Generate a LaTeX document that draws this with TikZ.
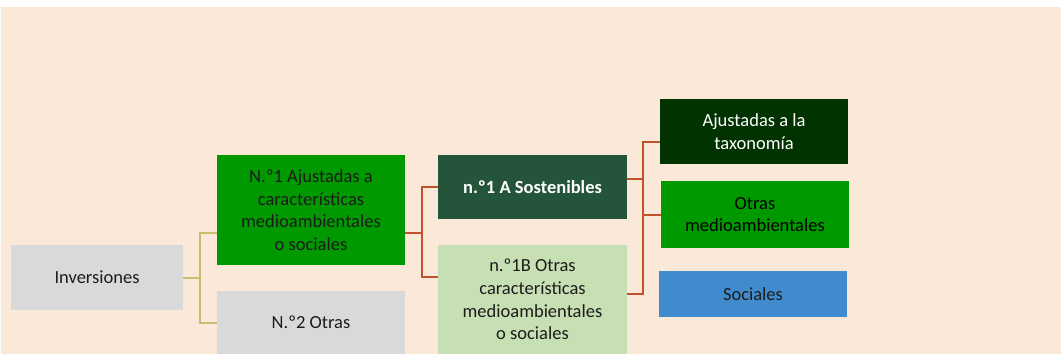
\documentclass[tikz,border=0pt]{standalone}
\usepackage{fontspec}
\setmainfont{Carlito}
\usetikzlibrary{calc}
\definecolor{bgc}{HTML}{FAE8D8}
\definecolor{grayc}{HTML}{D9D9D9}
\definecolor{greenc}{HTML}{009900}
\definecolor{dkgreen}{HTML}{24553A}
\definecolor{darkest}{HTML}{003300}
\definecolor{ltgreen}{HTML}{C6E0B4}
\definecolor{bluec}{HTML}{3F8BCE}
\definecolor{redl}{HTML}{C4502E}
\definecolor{yell}{HTML}{C9BE70}
\definecolor{txt}{HTML}{1C1C1C}
\begin{document}
\begin{tikzpicture}[x=1pt,y=1pt,
  box/.style={rectangle, inner sep=0pt, align=center, text=txt,
    font=\fontsize{18.5}{22.6}\selectfont},
  yline/.style={draw=yell, line width=2pt},
  rline/.style={draw=redl, line width=2pt}]
\useasboundingbox (0,0) rectangle (1061,-354);
\fill[bgc] (1,-7) rectangle (1061,-354);
\node[box, fill=grayc, minimum width=172, minimum height=65] (inv) at (97,-277.5) {Inversiones};
\node[box, fill=greenc, minimum width=188, minimum height=110] (n1) at (311,-210) {N.º1 Ajustadas a\\características\\medioambientales\\o sociales};
\node[box, fill=grayc, minimum width=188, minimum height=63] (n2) at (311,-322.5) {N.º2 Otras};
\node[box, fill=dkgreen, text=white, font=\fontsize{18.5}{22.6}\selectfont\bfseries, minimum width=189, minimum height=64] (a) at (532.5,-187) {n.º1 A Sostenibles};
\node[box, fill=ltgreen, minimum width=189, minimum height=109] (b) at (532.5,-299.5) {n.º1B Otras\\características\\medioambientales\\o sociales};
\node[box, fill=darkest, text=white, minimum width=188, minimum height=65] (aj) at (754,-131.5) {Ajustadas a la\\taxonomía};
\node[box, fill=greenc, text=black, minimum width=188, minimum height=67] (ot) at (755,-214.5) {Otras\\medioambientales};
\node[box, fill=bluec, minimum width=188, minimum height=46] (so) at (753,-294) {Sociales};
% yellow connector
\draw[yline] (inv.east) -- ++(17,0) coordinate (j1);
\draw[yline] ($(n1.west)+(0,-23)$) -| (j1) |- (n2.west);
% red connector 1
\coordinate (j2) at ($(n1.east)+(17,-23)$);
\draw[rline] ($(n1.east)+(0,-23)$) -- (j2);
\draw[rline] (a.west) -| (j2) |- ($(b.west)+(0,22.5)$);
% red connector 2
\coordinate (j3) at ($(a.east)+(16,8)$);
\draw[rline] ($(a.east)+(0,8)$) -- (j3);
\draw[rline] ($(aj.west)+(0,-10.5)$) -| (j3) |- ($(b.east)+(0,5.5)$);
\draw[rline] (j3 |- ot.west) -- (ot.west);
\end{tikzpicture}
\end{document}
